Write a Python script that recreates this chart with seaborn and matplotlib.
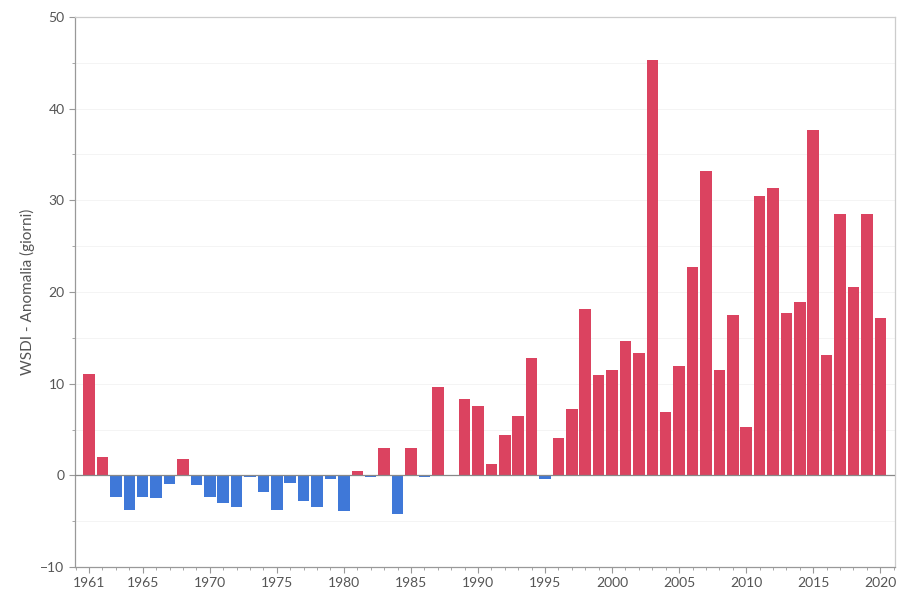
import numpy as np
import pandas as pd
import matplotlib
matplotlib.use("Agg")
import matplotlib.pyplot as plt
from matplotlib.ticker import MultipleLocator
import seaborn as sns

# ==============================================================================
# DATA (WSDI anomaly, days)
# ==============================================================================
years = list(range(1961, 2021))
anomaly = [
    11.1, 2.0, -2.4, -3.8, -2.4, -2.5, -0.9, 1.8, -1.1, -2.4,
    -3.0, -3.5, -0.2, -1.8, -3.8, -0.8, -2.8, -3.4, -0.4, -3.9,
    0.5, -0.2, 3.0, -4.2, 3.0, -0.2, 9.6, -0.1, 8.3, 7.6,
    1.2, 4.4, 6.5, 12.8, -0.4, 4.1, 7.2, 18.2, 10.9, 11.5,
    14.7, 13.3, 45.3, 6.9, 11.9, 22.7, 33.2, 11.5, 17.5, 5.3,
    30.5, 31.3, 17.7, 18.9, 37.7, 13.1, 28.5, 20.6, 28.5, 17.2,
]
xtick_labels = [1961, 1965, 1970, 1975, 1980, 1985, 1990, 1995, 2000, 2005, 2010, 2015, 2020]

RED = "#db4360"
BLUE = "#3f78d8"
GREY = "#555555"

df = pd.DataFrame({"Year": years, "Anomaly": anomaly})
df["Sign"] = np.where(df["Anomaly"] >= 0, "pos", "neg")

# ==============================================================================
# PLOT
# ==============================================================================
sns.set_style("white")
plt.rcParams["font.family"] = ["Lato", "DejaVu Sans"]

fig = plt.figure(figsize=(8.99, 5.92), dpi=100)
ax = fig.add_axes([0.0834, 0.0422, 0.9122, 0.9291])

sns.barplot(data=df, x="Year", y="Anomaly", hue="Sign",
            palette={"pos": RED, "neg": BLUE}, native_scale=True,
            saturation=1, width=0.86, linewidth=0, legend=False, ax=ax)

ax.axhline(0, color="#888888", lw=0.9, zorder=3)

ax.set_xlim(1959.95, 2021.1)
ax.set_ylim(-10, 50)
ax.yaxis.set_major_locator(MultipleLocator(10))
ax.yaxis.set_minor_locator(MultipleLocator(5))
ax.set_xticks(xtick_labels)
ax.xaxis.set_minor_locator(MultipleLocator(1))

ax.grid(True, which="both", axis="y", color="#f2f2f2", lw=0.6)
ax.set_axisbelow(True)

ax.tick_params(axis="both", which="major", length=4, color="#999999",
               labelsize=10, labelcolor=GREY, direction="out")
ax.tick_params(axis="both", which="minor", length=2.5, color="#999999")
ax.tick_params(axis="y", which="both", left=True)
ax.tick_params(axis="x", which="both", bottom=True)

for side in ["left", "bottom"]:
    ax.spines[side].set_color("#999999")
    ax.spines[side].set_linewidth(0.9)
for side in ["top", "right"]:
    ax.spines[side].set_color("#cccccc")
    ax.spines[side].set_linewidth(0.9)

ax.set_xlabel("")
ax.set_ylabel("WSDI - Anomalia (giorni)", fontsize=11, color=GREY)

fig.savefig("out.png", dpi=100)
